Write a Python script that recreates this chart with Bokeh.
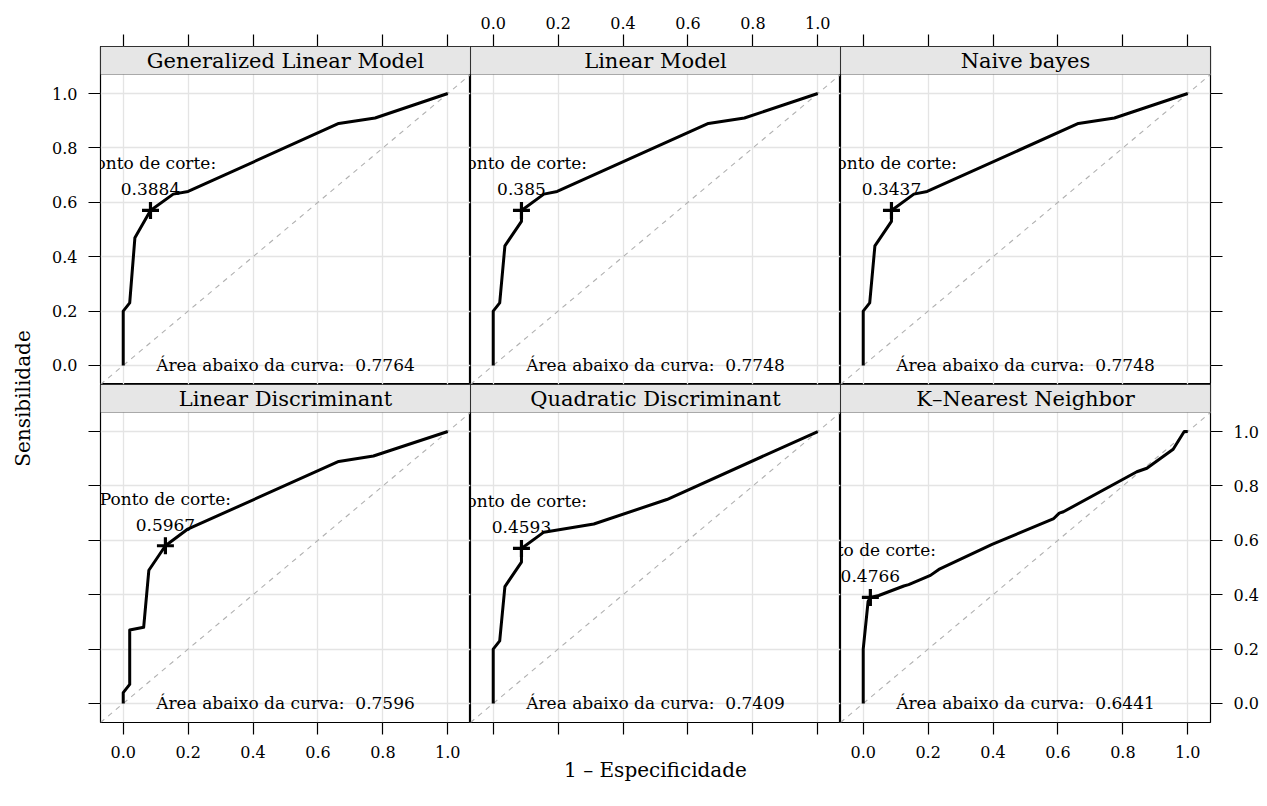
import math
from bokeh.plotting import figure
from bokeh.models import Range1d, FixedTicker, LinearAxis, BoxAnnotation, Label, Slope, Grid
from bokeh.layouts import row, column
from bokeh.embed import file_html
from bokeh.resources import INLINE
from bokeh.core.properties import value

# ---------------- data ----------------
models = ["Generalized Linear Model", "Linear Model", "Naive bayes",
          "Linear Discriminant", "Quadratic Discriminant", "K\u2013Nearest Neighbor"]

glm_fpr = [0, 0, 0.02, 0.036, 0.084, 0.154, 0.2, 0.664, 0.776, 1]
glm_tpr = [0, 0.2, 0.23, 0.47, 0.57, 0.63, 0.64, 0.89, 0.91, 1]

lm_fpr = [0, 0, 0.02, 0.036, 0.087, 0.087, 0.156, 0.197, 0.663, 0.774, 1]
lm_tpr = [0, 0.2, 0.23, 0.44, 0.53, 0.57, 0.63, 0.64, 0.89, 0.91, 1]

nb_fpr = [0, 0, 0.02, 0.036, 0.087, 0.087, 0.156, 0.197, 0.663, 0.774, 1]
nb_tpr = [0, 0.2, 0.23, 0.44, 0.53, 0.57, 0.63, 0.64, 0.89, 0.91, 1]

lda_fpr = [0, 0, 0.02, 0.02, 0.063, 0.079, 0.13, 0.197, 0.664, 0.771, 1]
lda_tpr = [0, 0.04, 0.07, 0.27, 0.28, 0.49, 0.58, 0.64, 0.89, 0.91, 1]

qda_fpr = [0, 0, 0.02, 0.036, 0.087, 0.087, 0.156, 0.31, 0.535, 1]
qda_tpr = [0, 0.2, 0.23, 0.43, 0.52, 0.57, 0.63, 0.66, 0.75, 1]

knn_fpr = [0, 0, 0.015, 0.022, 0.048, 0.125, 0.14, 0.207, 0.233, 0.397,
           0.587, 0.604, 0.617, 0.843, 0.874, 0.955, 0.989, 1]
knn_tpr = [0, 0.2, 0.375, 0.39, 0.397, 0.432, 0.437, 0.471, 0.493, 0.585,
           0.68, 0.70, 0.705, 0.852, 0.865, 0.935, 1.0, 1]

cut_x = [0.084, 0.087, 0.087, 0.13, 0.087, 0.022]
cut_y = [0.57, 0.57, 0.57, 0.58, 0.57, 0.39]
cut_labels = ["0.3884", "0.385", "0.3437", "0.5967", "0.4593", "0.4766"]
auc_labels = ["0.7764", "0.7748", "0.7748", "0.7596", "0.7409", "0.6441"]

ticks = [0.0, 0.2, 0.4, 0.6, 0.8, 1.0]
tick_labels = ["0.0", "0.2", "0.4", "0.6", "0.8", "1.0"]

x_title = "1 \u2013 Especificidade"
y_title = "Sensibilidade"
auc_prefix = "\u00c1rea abaixo da curva:\u00a0 "
cut_title = "Ponto de corte:"

curves = [(glm_fpr, glm_tpr), (lm_fpr, lm_tpr), (nb_fpr, nb_tpr),
          (lda_fpr, lda_tpr), (qda_fpr, qda_tpr), (knn_fpr, knn_tpr)]

# ---------------- layout / style ----------------
FONT = value("DejaVu Serif")
PADF = 0.07
LO, HI = 0 - PADF, 1 + PADF
FRAME_W = 370
PANEL_H = 310
STRIP_H = 28
YLAB_W = 44
LEFT_B = 56
RIGHT_B = 52
TOP_B = 46
BOTTOM_B = 80
Y_END = HI + (HI - LO) * STRIP_H / PANEL_H
TICK_FS = "16px"
TEXT_FS = "17px"
STRIP_FS = "21px"
TITLE_FS = "20px"


def make_axis(show_labels, standoff, title=None):
    ax = LinearAxis(ticker=FixedTicker(ticks=ticks, minor_ticks=[]))
    ax.major_label_overrides = {t: (lab if show_labels else "") for t, lab in zip(ticks, tick_labels)}
    ax.axis_line_color = None
    ax.major_tick_in = 0
    ax.major_tick_out = 12
    ax.minor_tick_out = 0
    ax.minor_tick_in = 0
    ax.major_tick_line_color = "black"
    ax.major_tick_line_width = 1.2
    ax.major_label_text_font = "DejaVu Serif"
    ax.major_label_text_font_size = TICK_FS
    ax.major_label_text_color = "black"
    ax.major_label_standoff = standoff
    if title is not None:
        ax.axis_label = title
        ax.axis_label_text_font = "DejaVu Serif"
        ax.axis_label_text_font_size = TITLE_FS
        ax.axis_label_text_font_style = "normal"
        ax.axis_label_text_color = "black"
        ax.axis_label_standoff = 23
    return ax


def panel(i):
    r, c = divmod(i, 3)
    w = FRAME_W + (LEFT_B if c == 0 else 0) + (RIGHT_B if c == 2 else 0)
    h = PANEL_H + STRIP_H + (TOP_B if r == 0 else 0) + (BOTTOM_B if r == 1 else 0)
    p = figure(width=w, height=h, x_range=Range1d(LO, HI), y_range=Range1d(LO, Y_END),
               output_backend="svg", toolbar_location=None,
               x_axis_location=None, y_axis_location=None,
               min_border_left=LEFT_B if c == 0 else 0,
               min_border_right=RIGHT_B if c == 2 else 0,
               min_border_top=TOP_B if r == 0 else 0,
               min_border_bottom=BOTTOM_B if r == 1 else 0)
    for g in p.grid:
        g.visible = False
    p.outline_line_color = "black"
    p.outline_line_width = 1.2
    p.background_fill_color = "white"
    p.border_fill_color = "white"

    for dim in (0, 1):
        p.add_layout(Grid(dimension=dim, ticker=FixedTicker(ticks=ticks, minor_ticks=[]),
                          grid_line_color="#e4e4e4", grid_line_width=1.3))

    p.add_layout(Slope(gradient=1, y_intercept=0, line_color="#b0b0b0", line_width=1.1,
                       line_dash="5 5", level="underlay"))

    fx, ty = curves[i]
    p.line(fx, ty, line_color="black", line_width=3, line_join="round")
    p.scatter([cut_x[i]], [cut_y[i]], marker="cross", size=17, line_width=3.2,
              line_color="black")
    p.text([cut_x[i]], [cut_y[i]], text=[cut_title], text_font=FONT,
           text_font_size=TEXT_FS, text_align="center", text_baseline="alphabetic",
           y_offset=-47, text_color="black")
    p.text([cut_x[i]], [cut_y[i]], text=[cut_labels[i]], text_font=FONT,
           text_font_size=TEXT_FS, text_align="center", text_baseline="alphabetic",
           y_offset=-21, text_color="black")
    p.text([0.5], [0], text=[auc_prefix + auc_labels[i]], text_font=FONT,
           text_font_size=TEXT_FS, text_align="center", text_baseline="middle",
           text_color="black")

    # strip
    p.add_layout(BoxAnnotation(bottom=HI, fill_color="#e6e6e6", fill_alpha=1,
                               line_color="black", line_width=1.2, level="annotation"))
    p.add_layout(Label(x=0.5, y=(HI + Y_END) / 2, text=models[i], text_font="DejaVu Serif",
                       text_font_size=STRIP_FS, text_align="center", text_baseline="middle",
                       text_color="black", level="overlay"))

    # axes (lattice alternating)
    if c == 0:
        p.add_layout(make_axis(r == 0, 11), "left")
    if c == 2:
        p.add_layout(make_axis(r == 1, 11), "right")
    if r == 0:
        p.add_layout(make_axis(c == 1, 6), "above")
    if r == 1:
        p.add_layout(make_axis(c != 1, 11, x_title if c == 1 else None), "below")
    return p


panels = [panel(i) for i in range(6)]

# y-axis title in its own narrow strip
total_h = TOP_B + 2 * (STRIP_H + PANEL_H) + BOTTOM_B
top_panel = TOP_B + STRIP_H
bottom_panel = TOP_B + 2 * (STRIP_H + PANEL_H)
ylab = figure(width=YLAB_W, height=total_h, x_range=Range1d(0, YLAB_W),
              y_range=Range1d(total_h, 0), output_backend="svg", toolbar_location=None,
              x_axis_location=None, y_axis_location=None, min_border=0)
for g in ylab.grid:
    g.visible = False
ylab.outline_line_color = None
ylab.text([22], [(top_panel + bottom_panel) / 2], text=[y_title], angle=math.pi / 2,
          text_font=FONT, text_font_size=TITLE_FS, text_align="center",
          text_baseline="middle", text_color="black")

layout = row(ylab, column(row(*panels[:3]), row(*panels[3:])))

open("out.html", "w").write(file_html(layout, INLINE))
